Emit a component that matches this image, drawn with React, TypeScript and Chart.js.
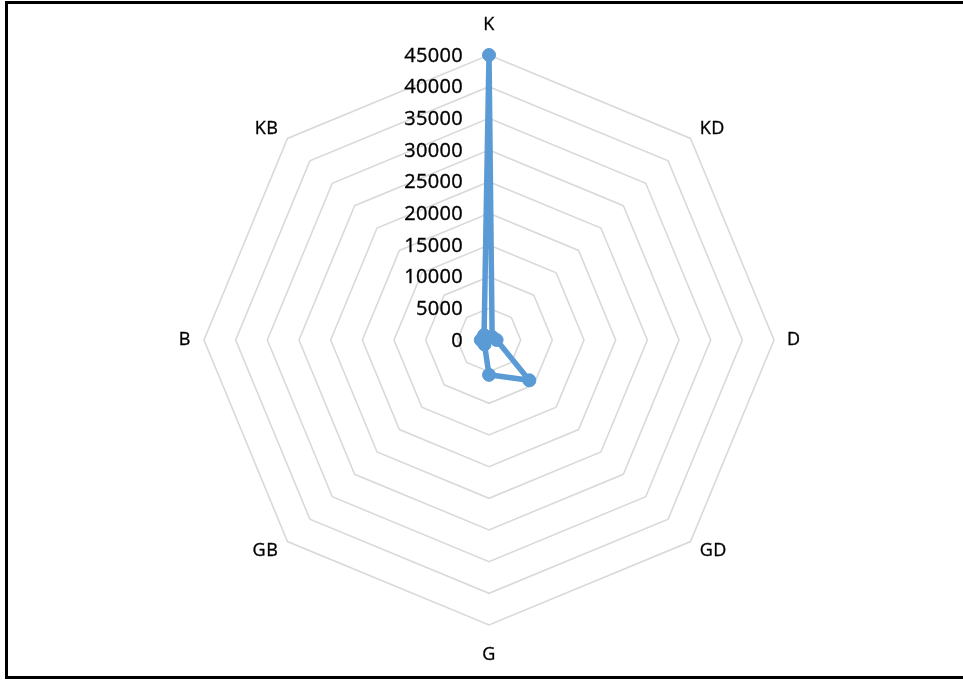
import React, { useEffect, useRef } from "react";
import { Chart, registerables } from "chart.js";

Chart.register(...registerables);

const categories: string[] = ["K", "KD", "D", "GD", "G", "GB", "B", "KB"];
const seriesValues: number[] = [45000, 700, 1200, 9000, 5500, 1000, 1300, 1100];
const tickValues: number[] = [0, 5000, 10000, 15000, 20000, 25000, 30000, 35000, 40000, 45000];

const LINE_COLOR = "#5b9bd5";

export default function App() {
  const canvasRef = useRef<HTMLCanvasElement | null>(null);

  useEffect(() => {
    const canvas = canvasRef.current;
    if (!canvas) return;

    const labelPlugin = {
      id: "customRadarLabels",
      afterDraw(chart: any) {
        const scale = chart.scales.r;
        const ctx = chart.ctx as CanvasRenderingContext2D;
        ctx.save();
        ctx.fillStyle = "#000000";
        ctx.strokeStyle = "#000000";
        ctx.lineWidth = 0.35;
        ctx.textBaseline = "middle";
        // tick labels, right-aligned left of the vertical axis
        ctx.font = "20px 'Open Sans'";
        (ctx as any).letterSpacing = "0.3px";
        ctx.textAlign = "right";
        for (const v of tickValues) {
          const d = scale.getDistanceFromCenterForValue(v);
          const x = scale.xCenter - 26;
          const y = scale.yCenter - d + 1;
          ctx.fillText(String(v), x, y);
          ctx.strokeText(String(v), x, y);
        }
        // point labels
        ctx.font = "18px 'Open Sans'";
        (ctx as any).letterSpacing = "0.5px";
        categories.forEach((lab, i) => {
          const angle = scale.getIndexAngle(i);
          const s = Math.sin(angle);
          const vertical = Math.abs(s) < 0.01;
          const dist = scale.drawingArea + (vertical ? 30 : 13);
          const p = scale.getPointPosition(i, dist);
          ctx.textAlign = vertical ? "center" : s > 0 ? "left" : "right";
          ctx.fillText(lab, p.x, p.y);
          ctx.strokeText(lab, p.x, p.y);
        });
        ctx.restore();
      },
    };

    const chart = new Chart(canvas, {
      type: "radar",
      data: {
        labels: categories,
        datasets: [
          {
            label: "Series",
            data: seriesValues,
            borderColor: LINE_COLOR,
            backgroundColor: "rgba(0,0,0,0)",
            borderWidth: 5.5,
            fill: false,
            pointRadius: 6.5,
            pointBorderWidth: 1,
            pointBackgroundColor: LINE_COLOR,
            pointBorderColor: LINE_COLOR,
            tension: 0,
          },
        ],
      },
      options: {
        responsive: false,
        animation: false,
        devicePixelRatio: window.devicePixelRatio || 1,
        layout: { padding: { top: 55, bottom: 56, left: 200, right: 184 } },
        plugins: {
          legend: { display: false },
          tooltip: { enabled: false },
          title: { display: false },
        },
        scales: {
          r: {
            min: 0,
            max: 45000,
            beginAtZero: true,
            ticks: { display: false, stepSize: 5000 },
            grid: { color: "#d9d9d9", lineWidth: 1.6, circular: false },
            angleLines: { display: false },
            pointLabels: { display: false },
          },
        },
      },
      plugins: [labelPlugin],
    } as any);

    return () => {
      chart.destroy();
    };
  }, []);

  return (
    <div style={{ position: "fixed", left: 0, top: 0, width: 963, height: 681, background: "#ffffff" }}>
      <canvas
        ref={canvasRef}
        width={963}
        height={681}
        style={{ position: "absolute", left: 0, top: 0, width: 963, height: 681 }}
      />
      <div
        style={{
          position: "absolute",
          left: 5,
          top: 1,
          width: 1000,
          height: 678,
          boxSizing: "border-box",
          border: "3px solid #000000",
          pointerEvents: "none",
        }}
      />
    </div>
  );
}
